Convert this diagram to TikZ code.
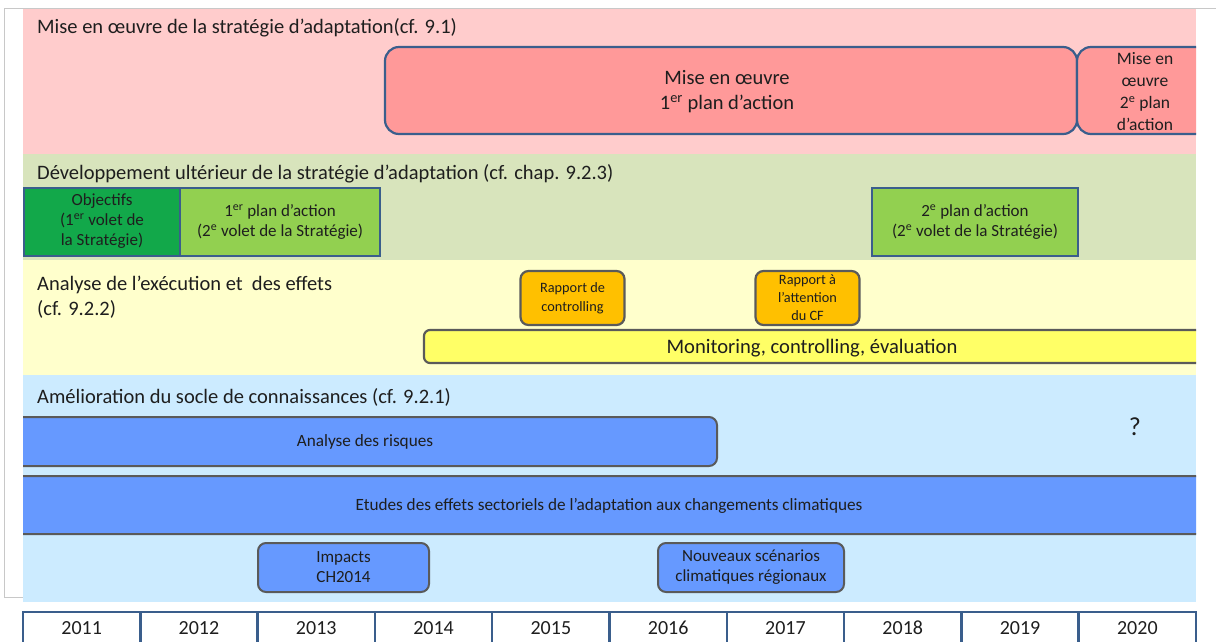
\documentclass[tikz,border=0pt]{standalone}
\usepackage{fontspec}
\setmainfont{Carlito}
\definecolor{pinkband}{HTML}{FFCCCC}
\definecolor{pinkbox}{HTML}{FF9999}
\definecolor{bborder}{HTML}{3A5E8C}
\definecolor{greenband}{HTML}{D8E4BC}
\definecolor{darkgreen}{HTML}{12A84A}
\definecolor{lightgreen}{HTML}{92D050}
\definecolor{yellowband}{HTML}{FFFFCC}
\definecolor{orangebox}{HTML}{FFC000}
\definecolor{gborder}{HTML}{5A5A5A}
\definecolor{yellowbar}{HTML}{FFFF66}
\definecolor{blueband}{HTML}{CCEBFF}
\definecolor{bluebox}{HTML}{6699FF}
\definecolor{txt}{HTML}{1E1E1E}
\definecolor{framegray}{HTML}{C8C8C8}
\begin{document}
\begin{tikzpicture}[x=1pt,y=-1pt,
  bandtitle/.style={anchor=west, inner sep=0pt, text=txt, font=\fontsize{20.5}{25}\selectfont, align=left},
  txtnode/.style={inner sep=0pt, text=txt, align=center},
  redbox/.style={draw=bborder, line width=2.2pt, fill=pinkbox, rounded corners=14pt},
  greenbox/.style={draw=bborder, line width=2.2pt, inner sep=0pt},
  orangebox/.style={draw=gborder, line width=2.2pt, fill=orangebox, rounded corners=8pt, inner sep=0pt, text=txt, align=center},
  bluebox/.style={draw=gborder, line width=2pt, fill=bluebox, rounded corners=8pt},
  yearbox/.style={draw=bborder, line width=2.5pt, fill=white},
  yeartext/.style={inner sep=0pt, text=txt, font=\fontsize{20}{22}\selectfont}
]
\useasboundingbox (0,0) rectangle (1216,641);
\fill[white] (0,0) rectangle (1216,641);
\draw[framegray, line width=1pt] (4,8) -- (1216,8);
\draw[framegray, line width=1pt] (4,8) -- (4,597) -- (23,597);
\begin{scope}
\clip (23,9) rectangle (1196,602);
% bands
\fill[pinkband] (23,9) rectangle (1196,154);
\fill[greenband] (23,154) rectangle (1196,260);
\fill[yellowband] (23,260) rectangle (1196,375);
\fill[blueband] (23,375) rectangle (1196,602);
% pink band
\draw[redbox] (385,47) rectangle (1077,134);
\node[txtnode, font=\fontsize{20.5}{25}\selectfont] (plan1) at (727,92) {Mise en œuvre\\1\textsuperscript{er} plan d’action};
\draw[redbox] (1077,47) rectangle (1330,134);
\node[txtnode, font=\fontsize{17.5}{22}\selectfont] (plan2) at (1145,92) {Mise en\\œuvre\\2\textsuperscript{e} plan\\d’action};
% green band
\draw[greenbox, fill=darkgreen] (24,188) rectangle (180,256);
\draw[greenbox, fill=lightgreen] (180,188) rectangle (380,256);
\draw[greenbox, fill=lightgreen] (872,188) rectangle (1078,256);
\node[txtnode, font=\fontsize{17}{20}\selectfont] (obj) at (102,221) {Objectifs\\(1\textsuperscript{er} volet de\\la Stratégie)};
\node[txtnode, font=\fontsize{17}{20}\selectfont] (pa1) at (280,222) {1\textsuperscript{er} plan d’action\\(2\textsuperscript{e} volet de la Stratégie)};
\node[txtnode, font=\fontsize{17}{20}\selectfont] (pa2) at (975,222) {2\textsuperscript{e} plan d’action\\(2\textsuperscript{e} volet de la Stratégie)};
% yellow band
\node[orangebox, minimum width=104pt, minimum height=54pt, font=\fontsize{14.3}{19}\selectfont] (rc) at (572.5,298) {Rapport de\\controlling};
\node[orangebox, minimum width=104pt, minimum height=54pt, font=\fontsize{14.3}{18}\selectfont] (rcf) at (807.5,298) {Rapport à\\l’attention\\du CF};
\draw[draw=gborder, line width=2.2pt, fill=yellowbar, rounded corners=6pt] (424,330) rectangle (1330,363);
\node[txtnode, font=\fontsize{20.6}{22}\selectfont] (mon) at (812,348) {Monitoring, controlling, évaluation};
% blue band
\draw[bluebox] (-20,417) rectangle (717,466);
\node[txtnode, font=\fontsize{17.2}{19}\selectfont] (ar) at (365,442) {Analyse des risques};
\node[txtnode, font=\fontsize{26}{28}\selectfont] (q) at (1135,427) {?};
\draw[bluebox] (-20,476) rectangle (1330,534);
\node[txtnode, font=\fontsize{17.2}{19}\selectfont] (et) at (609,506) {Etudes des effets sectoriels de l’adaptation aux changements climatiques};
\node[bluebox, minimum width=171pt, minimum height=49pt, inner sep=0pt, text=txt, align=center, font=\fontsize{17}{20}\selectfont] (imp) at (343.5,567.5) {Impacts\\CH2014};
\node[bluebox, minimum width=186pt, minimum height=49pt, inner sep=0pt, text=txt, align=center, font=\fontsize{17}{20}\selectfont] (nsc) at (751,567.5) {Nouveaux scénarios\\climatiques régionaux};
\end{scope}
% titles
\node[bandtitle] (t1) at (37,28) {Mise en œuvre de la stratégie d’adaptation(cf. 9.1)};
\node[bandtitle] (t2) at (37,174) {Développement ultérieur de la stratégie d’adaptation (cf. chap. 9.2.3)};
\node[bandtitle] (t3) at (37,297) {Analyse de l’exécution et~ des effets\\(cf. 9.2.2)};
\node[bandtitle] (t4) at (37,397) {Amélioration du socle de connaissances (cf. 9.2.1)};
% years
\foreach \yr [count=\i from 0] in {2011,2012,2013,2014,2015,2016,2017,2018,2019,2020}{
  \draw[yearbox] ({23+117.3*\i},612) rectangle ({23+117.3*(\i+1)},650);
  \node[yeartext] (y\yr) at ({23+117.3*(\i+0.5)},628) {\yr};
}
\end{tikzpicture}
\end{document}
